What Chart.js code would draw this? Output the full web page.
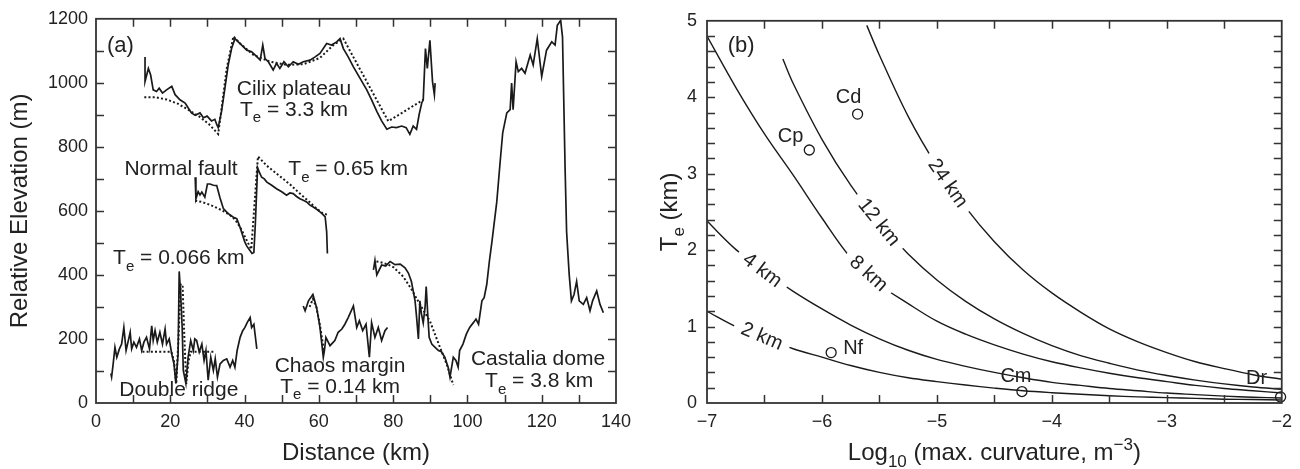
<!DOCTYPE html>
<html>
<head>
<meta charset="utf-8">
<script src="https://cdn.jsdelivr.net/npm/chart.js@4.4.1/dist/chart.umd.min.js"></script>
<style>
  html, body { margin: 0; padding: 0; background: #fff; }
  #wrap { position: relative; width: 1300px; height: 469px; }
  canvas { position: absolute; top: 0; }
  #profiles { left: 0; }
  #flexure { left: 650px; }
</style>
</head>
<body>
<div id="wrap">
  <canvas id="profiles" width="650" height="469"></canvas>
  <canvas id="flexure" width="650" height="469"></canvas>
</div>
<script>
// ---- (a) topographic profiles: [distance km, relative elevation m] ----
var cilixObs = [[13.2,1081],[13.2,1004],[14.1,1045],[14.7,1025],[15.4,978],[16.3,973],[17.0,983],[17.9,968],[19.0,978],[20.4,989],[21.3,963],[22.6,947],[24.0,937],[24.8,922],[25.7,906],[26.7,899],[28.0,906],[28.9,891],[29.9,896],[31.1,881],[32.0,886],[32.5,870],[32.9,860],[33.8,911],[34.7,983],[35.6,1056],[36.5,1107],[37.4,1138],[38.3,1128],[39.2,1118],[40.6,1102],[41.9,1097],[42.8,1087],[44.2,1071],[44.9,1118],[45.5,1076],[46.4,1066],[47.7,1040],[48.6,1061],[49.5,1045],[50.6,1066],[51.8,1050],[53.1,1066],[54.5,1058],[55.8,1066],[57.6,1071],[59.0,1081],[60.3,1092],[62.1,1123],[63.4,1118],[64.8,1128],[65.7,1138],[66.6,1107],[67.9,1081],[69.3,1050],[71.1,1014],[72.9,978],[74.2,947],[75.6,911],[76.9,881],[78.3,855],[79.6,862],[80.9,860],[82.3,865],[83.5,860],[84.5,839],[85.4,865],[86.3,855],[87.0,901],[87.7,937],[88.1,947],[88.7,1107],[89.2,1045],[89.9,1133],[90.6,1004],[91.1,963],[91.3,999]];
var cilixFit = [[13.0,955],[16.0,955],[19.0,948],[22.0,935],[25.0,915],[28.0,893],[30.5,870],[32.9,840],[35.2,1045],[37.0,1145],[38.8,1123],[42.4,1087],[46.9,1066],[51.3,1056],[55.8,1058],[60.3,1078],[63.9,1118],[66.6,1138],[78.7,880],[88.1,947]];

var faultObs = [[26.7,705],[26.9,638],[27.5,660],[28.0,650],[28.5,659],[29.3,643],[30.0,684],[30.7,684],[31.6,680],[32.5,679],[33.4,640],[34.3,607],[35.2,596],[36.1,587],[37.0,580],[37.9,576],[38.6,555],[39.3,530],[40.0,505],[40.6,490],[41.2,480],[42.0,467],[42.5,470],[42.9,560],[43.5,735],[44.0,720],[44.6,705],[45.3,700],[46.0,690],[47.3,680],[48.6,669],[50.0,660],[51.3,649],[52.2,656],[53.1,654],[54.0,645],[54.9,638],[55.8,633],[56.7,628],[57.6,618],[58.5,612],[59.4,605],[60.3,597],[61.0,590],[61.7,581],[62.1,535],[62.3,467]];
var faultFit = [[26.7,632],[28.5,628],[30.0,622],[31.5,615],[33.0,607],[34.5,598],[36.0,588],[37.5,572],[39.0,545],[40.5,510],[41.8,480],[43.6,770],[46.0,741],[48.0,722],[50.4,700],[52.5,680],[54.9,654],[57.0,633],[59.4,607],[61.0,593],[62.5,587]];

var ridgeObs = [[4.0,92],[4.2,81],[4.6,120],[5.1,174],[5.6,143],[6.3,169],[6.9,184],[7.5,236],[8.1,164],[8.7,195],[9.2,221],[9.6,169],[10.2,190],[10.9,174],[11.7,200],[12.3,164],[12.9,190],[13.6,205],[14.4,169],[15.0,241],[15.4,195],[15.9,226],[16.5,190],[17.2,221],[17.9,184],[18.6,231],[19.0,184],[19.7,200],[20.4,153],[21.0,122],[21.5,61],[22.1,153],[22.4,411],[22.8,339],[23.2,236],[23.5,102],[24.2,61],[24.8,143],[25.5,195],[26.2,164],[26.6,200],[27.1,195],[27.8,159],[28.5,184],[29.1,133],[29.6,164],[30.2,71],[30.9,143],[31.6,102],[32.1,138],[32.7,81],[33.4,122],[34.3,133],[35.2,138],[36.1,112],[36.8,133],[37.4,112],[38.0,164],[38.8,205],[39.5,226],[40.1,236],[40.7,251],[41.5,267],[41.9,236],[42.5,246],[43.3,169]];
var ridgeFit = [[12.5,160],[20.3,160],[21.0,130],[21.6,60],[22.2,200],[22.8,370],[23.3,370],[23.8,200],[24.3,60],[24.9,130],[25.5,160],[32.0,160]];

var chaosObs = [[55.8,303],[56.3,288],[57.2,319],[58.4,339],[59.4,298],[60.3,236],[61.2,143],[61.5,164],[61.9,205],[63.0,179],[64.3,195],[65.2,221],[66.2,231],[67.0,246],[67.9,267],[69.3,303],[70.2,236],[70.9,257],[71.8,226],[72.7,246],[73.6,143],[74.2,251],[75.1,205],[76.0,236],[76.9,195],[77.8,226],[78.5,236]];
var chaosFit = [[57.5,300],[58.4,325],[59.3,300],[60.2,250],[61.0,190],[61.5,160]];

var domeObs = [[74.7,416],[75.1,445],[75.6,400],[76.9,431],[78.0,428],[79.2,442],[80.5,432],[81.9,434],[83.2,422],[84.1,406],[84.9,380],[85.4,350],[85.9,319],[86.3,270],[86.8,200],[87.2,319],[87.6,280],[88.1,250],[88.6,300],[88.9,364],[89.3,280],[89.7,205],[90.4,184],[91.3,174],[92.2,164],[93.0,160],[93.9,143],[94.8,112],[95.3,81],[96.2,143],[96.9,133],[97.5,112],[97.9,164],[98.8,184],[99.7,215],[100.6,236],[101.6,251],[102.3,262],[103.0,246],[103.9,319],[104.5,329],[105.2,370],[105.9,442],[106.6,504],[107.9,628],[108.8,752],[109.5,844],[110.6,906],[111.5,916],[111.9,999],[112.3,916],[113.1,1066],[113.7,1035],[114.6,1045],[115.5,1030],[116.9,1087],[117.7,1056],[118.8,1138],[120.0,1020],[121.3,1102],[122.7,1128],[123.6,1118],[124.2,1180],[125.1,1195],[125.6,1143],[126.3,731],[126.7,535],[127.4,401],[128.0,319],[128.7,339],[129.4,380],[130.1,319],[131.2,308],[132.1,329],[133.0,288],[133.7,319],[134.8,350],[135.7,308],[136.6,282]];
var domeFit = [[75.5,442],[76.5,440],[78.5,433],[80.1,424],[82.7,395],[84.9,356],[87.2,308],[89.9,256],[92.6,174],[94.4,122],[96.2,56]];

// ---- (b) Te against log10 of maximum curvature, one curve per wavelength ----
var curve24 = [[-5.61,4.94],[-5.5,4.55],[-5.25,3.75],[-5.0,3.1],[-4.75,2.56],[-4.5,2.11],[-4.25,1.74],[-4.0,1.44],[-3.75,1.19],[-3.5,0.97],[-3.25,0.8],[-3.0,0.66],[-2.75,0.54],[-2.5,0.45],[-2.25,0.37],[-2.0,0.31]];
var curve12 = [[-6.34,4.5],[-6.25,4.18],[-6.0,3.45],[-5.75,2.85],[-5.5,2.36],[-5.25,1.95],[-5.0,1.61],[-4.75,1.33],[-4.5,1.1],[-4.25,0.91],[-4.0,0.75],[-3.75,0.62],[-3.5,0.52],[-3.25,0.43],[-3.0,0.36],[-2.75,0.3],[-2.5,0.25],[-2.25,0.21],[-2.0,0.18]];
var curve8 = [[-7.0,4.8],[-6.75,4.13],[-6.5,3.52],[-6.25,2.98],[-6.0,2.42],[-5.75,1.9],[-5.5,1.55],[-5.25,1.3],[-5.0,1.07],[-4.75,0.9],[-4.5,0.76],[-4.25,0.64],[-4.0,0.54],[-3.75,0.46],[-3.5,0.39],[-3.25,0.33],[-3.0,0.28],[-2.75,0.23],[-2.5,0.19],[-2.25,0.16],[-2.0,0.13]];
var curve4 = [[-7.0,2.38],[-6.75,2.01],[-6.5,1.72],[-6.25,1.46],[-6.0,1.23],[-5.75,1.02],[-5.5,0.84],[-5.25,0.69],[-5.0,0.57],[-4.75,0.48],[-4.5,0.4],[-4.25,0.33],[-4.0,0.27],[-3.75,0.23],[-3.5,0.19],[-3.25,0.16],[-3.0,0.13],[-2.75,0.11],[-2.5,0.09],[-2.25,0.075],[-2.0,0.065]];
var curve2 = [[-7.0,1.2],[-6.75,1.0],[-6.5,0.85],[-6.25,0.71],[-6.0,0.6],[-5.75,0.49],[-5.5,0.4],[-5.25,0.33],[-5.0,0.28],[-4.75,0.235],[-4.5,0.195],[-4.25,0.16],[-4.0,0.135],[-3.75,0.115],[-3.5,0.095],[-3.25,0.08],[-3.0,0.07],[-2.75,0.06],[-2.5,0.05],[-2.25,0.045],[-2.0,0.04]];

var siteNames = ['Cd', 'Cp', 'Nf', 'Cm', 'Dr'];
var siteCurv = [-5.69, -6.11, -5.92, -4.26, -2.01];
var siteTe = [3.78, 3.31, 0.66, 0.15, 0.08];

var FONT = '"Liberation Sans", Arial, Helvetica, sans-serif';
var INK = '#1a1a1a';
var TEXT = '#222';

function pts(arr) {
  return arr.map(function (p) { return { x: p[0], y: p[1] }; });
}

// text made of runs: ['T'], ['e', 'sub'], ['-3', 'sup']
function drawRich(ctx, parts, x, y, size, align) {
  var widths = parts.map(function (p) {
    ctx.font = (p[1] ? Math.round(size * 0.7) : size) + 'px ' + FONT;
    return ctx.measureText(p[0]).width;
  });
  var total = widths.reduce(function (a, b) { return a + b; }, 0);
  var cx = align === 'center' ? x - total / 2 : (align === 'right' ? x - total : x);
  ctx.textAlign = 'left';
  ctx.textBaseline = 'alphabetic';
  ctx.fillStyle = TEXT;
  parts.forEach(function (p, i) {
    var dy = p[1] === 'sub' ? size * 0.3 : (p[1] === 'sup' ? -size * 0.4 : 0);
    ctx.font = (p[1] ? Math.round(size * 0.7) : size) + 'px ' + FONT;
    ctx.fillText(p[0], cx, y + dy);
    cx += widths[i];
  });
}

// frame round the plot area, ticks pointing inwards on all four sides
var frameTicks = {
  id: 'frameTicks',
  afterDatasetsDraw: function (chart) {
    var ctx = chart.ctx, a = chart.chartArea;
    var xs = chart.scales.x, ys = chart.scales.y;
    var len = 8;
    ctx.save();
    ctx.strokeStyle = '#333';
    ctx.lineWidth = 1.5;
    ctx.beginPath();
    xs.ticks.forEach(function (t) {
      if (t.value <= xs.min || t.value >= xs.max) return;
      var px = Math.round(xs.getPixelForValue(t.value)) + 0.5;
      ctx.moveTo(px, a.bottom); ctx.lineTo(px, a.bottom - len);
      ctx.moveTo(px, a.top); ctx.lineTo(px, a.top + len);
    });
    ys.ticks.forEach(function (t) {
      if (t.value <= ys.min || t.value >= ys.max) return;
      var py = Math.round(ys.getPixelForValue(t.value)) + 0.5;
      ctx.moveTo(a.left, py); ctx.lineTo(a.left + len, py);
      ctx.moveTo(a.right, py); ctx.lineTo(a.right - len, py);
    });
    ctx.stroke();
    ctx.lineWidth = 1.8;
    ctx.strokeRect(a.left, a.top, a.right - a.left, a.bottom - a.top);
    ctx.restore();
  }
};

// free text placed in data coordinates, plus axis titles
var annotations = {
  id: 'annotations',
  afterDraw: function (chart, args, opts) {
    var ctx = chart.ctx, xs = chart.scales.x, ys = chart.scales.y, a = chart.chartArea;
    ctx.save();
    (opts.notes || []).forEach(function (n) {
      drawRich(ctx, n.parts, xs.getPixelForValue(n.x), ys.getPixelForValue(n.y), n.size || 21, n.align || 'center');
    });
    drawRich(ctx, opts.xTitle, (a.left + a.right) / 2, 460, 24, 'center');
    ctx.translate(opts.yTitleX, (a.top + a.bottom) / 2);
    ctx.rotate(-Math.PI / 2);
    drawRich(ctx, opts.yTitle, 0, 0, 24, 'center');
    ctx.restore();
  }
};

// wavelength labels sitting in breaks of the curves, and site names
var curveLabels = {
  id: 'curveLabels',
  afterDatasetsDraw: function (chart, args, opts) {
    var ctx = chart.ctx, xs = chart.scales.x, ys = chart.scales.y;
    ctx.save();
    ctx.font = '20px ' + FONT;
    ctx.textAlign = 'center';
    ctx.textBaseline = 'middle';
    (opts.items || []).forEach(function (c) {
      var w = ctx.measureText(c.text).width;
      ctx.save();
      ctx.translate(xs.getPixelForValue(c.x), ys.getPixelForValue(c.y));
      ctx.rotate(c.angle * Math.PI / 180);
      ctx.fillStyle = '#fff';
      ctx.fillRect(-w / 2 - 8, -9, w + 16, 18);
      ctx.fillStyle = TEXT;
      ctx.fillText(c.text, 0, 1);
      ctx.restore();
    });
    ctx.font = '20px ' + FONT;
    ctx.fillStyle = TEXT;
    ctx.textBaseline = 'alphabetic';
    (opts.sites || []).forEach(function (s, i) {
      ctx.textAlign = s.align;
      ctx.fillText(siteNames[i], xs.getPixelForValue(siteCurv[i]) + s.dx, ys.getPixelForValue(siteTe[i]) + s.dy);
    });
    ctx.restore();
  }
};

function profile(data, dotted) {
  return {
    data: pts(data),
    showLine: true,
    pointRadius: 0,
    borderColor: INK,
    borderWidth: dotted ? 2 : 1.7,
    borderDash: dotted ? [2, 2.2] : [],
    tension: 0
  };
}

function tickFont() {
  return { family: FONT, size: 18 };
}

new Chart(document.getElementById('profiles'), {
  type: 'scatter',
  data: {
    datasets: [
      profile(cilixFit, true), profile(cilixObs),
      profile(faultFit, true), profile(faultObs),
      profile(ridgeFit, true), profile(ridgeObs),
      profile(chaosFit, true), profile(chaosObs),
      profile(domeFit, true), profile(domeObs)
    ]
  },
  options: {
    responsive: false,
    devicePixelRatio: 1,
    animation: false,
    events: [],
    layout: { padding: { top: 15, right: 34, left: 0, bottom: 0 } },
    scales: {
      x: {
        type: 'linear', min: 0, max: 140,
        grid: { display: false, drawTicks: false },
        border: { display: false },
        afterFit: function (s) { s.height = 66; },
        ticks: {
          stepSize: 10, autoSkip: false, maxRotation: 0, padding: 8, color: TEXT, font: tickFont(),
          callback: function (v) { return v % 20 === 0 ? String(v) : ''; }
        }
      },
      y: {
        type: 'linear', min: 0, max: 1200,
        grid: { display: false, drawTicks: false },
        border: { display: false },
        afterFit: function (s) { s.width = 96; },
        ticks: {
          stepSize: 100, autoSkip: false, padding: 8, color: TEXT, font: tickFont(),
          callback: function (v) { return v % 200 === 0 ? String(v) : ''; }
        }
      }
    },
    plugins: {
      legend: { display: false },
      tooltip: { enabled: false },
      annotations: {
        xTitle: [['Distance (km)']],
        yTitle: [['Relative Elevation (m)']],
        yTitleX: 27,
        notes: [
          { x: 2.96, y: 1095, size: 22, align: 'left', parts: [['(a)']] },
          { x: 53.3, y: 962, parts: [['Cilix plateau']] },
          { x: 53.3, y: 897, parts: [['T'], ['e', 'sub'], [' = 3.3 km']] },
          { x: 22.9, y: 711, parts: [['Normal fault']] },
          { x: 67.9, y: 711, parts: [['T'], ['e', 'sub'], [' = 0.65 km']] },
          { x: 22.3, y: 433, parts: [['T'], ['e', 'sub'], [' = 0.066 km']] },
          { x: 22.3, y: 22, parts: [['Double ridge']] },
          { x: 65.7, y: 96, parts: [['Chaos margin']] },
          { x: 65.7, y: 31, parts: [['T'], ['e', 'sub'], [' = 0.14 km']] },
          { x: 119.0, y: 118, parts: [['Castalia dome']] },
          { x: 119.3, y: 49, parts: [['T'], ['e', 'sub'], [' = 3.8 km']] }
        ]
      }
    }
  },
  plugins: [frameTicks, annotations]
});

function curve(data) {
  return {
    data: pts(data),
    showLine: true,
    pointRadius: 0,
    borderColor: INK,
    borderWidth: 1.4,
    tension: 0.35
  };
}

new Chart(document.getElementById('flexure'), {
  type: 'scatter',
  data: {
    datasets: [
      curve(curve24), curve(curve12), curve(curve8), curve(curve4), curve(curve2),
      {
        data: siteCurv.map(function (c, i) { return { x: c, y: siteTe[i] }; }),
        pointRadius: 5,
        pointBorderWidth: 1.3,
        pointBorderColor: INK,
        pointBackgroundColor: 'rgba(0,0,0,0)',
        showLine: false,
        clip: false
      }
    ]
  },
  options: {
    responsive: false,
    devicePixelRatio: 1,
    animation: false,
    events: [],
    layout: { padding: { top: 15, right: 10, left: 0, bottom: 0 } },
    scales: {
      x: {
        type: 'linear', min: -7, max: -2,
        grid: { display: false, drawTicks: false },
        border: { display: false },
        afterFit: function (s) { s.height = 66; },
        ticks: {
          stepSize: 0.5, autoSkip: false, maxRotation: 0, padding: 8, color: TEXT, font: tickFont(),
          callback: function (v) { return Number.isInteger(v) ? '\u2212' + Math.abs(v) : ''; }
        }
      },
      y: {
        type: 'linear', min: 0, max: 5,
        grid: { display: false, drawTicks: false },
        border: { display: false },
        afterFit: function (s) { s.width = 57; },
        ticks: {
          stepSize: 0.2, autoSkip: false, padding: 10, color: TEXT, font: tickFont(),
          callback: function (v) { return Math.abs(v - Math.round(v)) < 1e-6 ? String(Math.round(v)) : ''; }
        }
      }
    },
    plugins: {
      legend: { display: false },
      tooltip: { enabled: false },
      annotations: {
        xTitle: [['Log'], ['10', 'sub'], [' (max. curvature, m'], ['\u22123', 'sup'], [')']],
        yTitle: [['T'], ['e', 'sub'], [' (km)']],
        yTitleX: 27,
        notes: [
          { x: -6.82, y: 4.59, size: 22, align: 'left', parts: [['(b)']] }
        ]
      },
      curveLabels: {
        items: [
          { text: '24 km', x: -4.90, y: 2.88, angle: 55 },
          { text: '12 km', x: -5.50, y: 2.37, angle: 51 },
          { text: '8 km', x: -5.59, y: 1.70, angle: 42 },
          { text: '4 km', x: -6.515, y: 1.744, angle: 37 },
          { text: '2 km', x: -6.52, y: 0.88, angle: 23 }
        ],
        sites: [
          { dx: -9, dy: -11, align: 'center' },
          { dx: -6, dy: -8, align: 'right' },
          { dx: 12, dy: 1, align: 'left' },
          { dx: -6, dy: -10, align: 'center' },
          { dx: -24, dy: -13, align: 'center' }
        ]
      }
    }
  },
  plugins: [curveLabels, frameTicks, annotations]
});
</script>
</body>
</html>
